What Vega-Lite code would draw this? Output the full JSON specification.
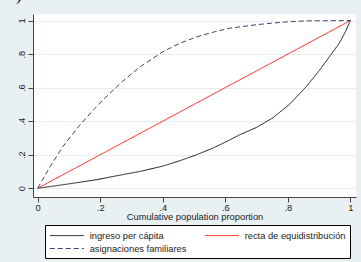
{
  "$schema": "https://vega.github.io/schema/vega-lite/v6.json",
  "autosize": {"type": "none"},
  "padding": {"left": 33, "top": 14, "right": 5, "bottom": 65},
  "width": 323,
  "height": 183,
  "background": "#e9f0f2",
  "title": {"text": "a)", "anchor": "start", "frame": "group", "fontSize": 18, "font": "Liberation Serif", "fontWeight": "normal", "color": "#000", "baseline": "alphabetic", "offset": 0, "dy": 4, "dx": -25},
  "config": {
    "view": {"fill": "white", "stroke": null},
    "font": "Liberation Sans"
  },
  "data": {"values": [
    {"series": "ingreso per cápita", "x": 0, "y": 0},
    {"series": "ingreso per cápita", "x": 0.081, "y": 0.021},
    {"series": "ingreso per cápita", "x": 0.188, "y": 0.051},
    {"series": "ingreso per cápita", "x": 0.251, "y": 0.074},
    {"series": "ingreso per cápita", "x": 0.326, "y": 0.100},
    {"series": "ingreso per cápita", "x": 0.400, "y": 0.132},
    {"series": "ingreso per cápita", "x": 0.454, "y": 0.164},
    {"series": "ingreso per cápita", "x": 0.507, "y": 0.199},
    {"series": "ingreso per cápita", "x": 0.560, "y": 0.239},
    {"series": "ingreso per cápita", "x": 0.613, "y": 0.287},
    {"series": "ingreso per cápita", "x": 0.645, "y": 0.318},
    {"series": "ingreso per cápita", "x": 0.699, "y": 0.362},
    {"series": "ingreso per cápita", "x": 0.752, "y": 0.420},
    {"series": "ingreso per cápita", "x": 0.805, "y": 0.500},
    {"series": "ingreso per cápita", "x": 0.858, "y": 0.604},
    {"series": "ingreso per cápita", "x": 0.901, "y": 0.703},
    {"series": "ingreso per cápita", "x": 0.933, "y": 0.784},
    {"series": "ingreso per cápita", "x": 0.965, "y": 0.866},
    {"series": "ingreso per cápita", "x": 0.986, "y": 0.940},
    {"series": "ingreso per cápita", "x": 1, "y": 1},
    {"series": "recta de equidistribución", "x": 0, "y": 0},
    {"series": "recta de equidistribución", "x": 0.25, "y": 0.25},
    {"series": "recta de equidistribución", "x": 0.5, "y": 0.5},
    {"series": "recta de equidistribución", "x": 0.75, "y": 0.75},
    {"series": "recta de equidistribución", "x": 1, "y": 1},
    {"series": "asignaciones familiares", "x": 0, "y": 0},
    {"series": "asignaciones familiares", "x": 0.040, "y": 0.130},
    {"series": "asignaciones familiares", "x": 0.081, "y": 0.250},
    {"series": "asignaciones familiares", "x": 0.134, "y": 0.375},
    {"series": "asignaciones familiares", "x": 0.182, "y": 0.475},
    {"series": "asignaciones familiares", "x": 0.230, "y": 0.565},
    {"series": "asignaciones familiares", "x": 0.273, "y": 0.640},
    {"series": "asignaciones familiares", "x": 0.326, "y": 0.722},
    {"series": "asignaciones familiares", "x": 0.400, "y": 0.814},
    {"series": "asignaciones familiares", "x": 0.454, "y": 0.864},
    {"series": "asignaciones familiares", "x": 0.507, "y": 0.902},
    {"series": "asignaciones familiares", "x": 0.560, "y": 0.930},
    {"series": "asignaciones familiares", "x": 0.613, "y": 0.954},
    {"series": "asignaciones familiares", "x": 0.699, "y": 0.975},
    {"series": "asignaciones familiares", "x": 0.752, "y": 0.985},
    {"series": "asignaciones familiares", "x": 0.805, "y": 0.993},
    {"series": "asignaciones familiares", "x": 0.858, "y": 0.998},
    {"series": "asignaciones familiares", "x": 1, "y": 1}
  ]},
  "mark": {"type": "line", "strokeWidth": 1},
  "encoding": {
    "x": {
      "field": "x", "type": "quantitative",
      "scale": {"domain": [-0.015, 1.018], "nice": false, "zero": false},
      "axis": {
        "values": [0, 0.2, 0.4, 0.6, 0.8, 1],
        "labelExpr": "datum.value == 0 ? '0' : datum.value == 1 ? '1' : '.' + round(datum.value * 10)",
        "grid": false,
        "domainColor": "#444", "tickColor": "#444", "tickSize": 5,
        "labelFontSize": 9.3, "labelColor": "#222", "labelPadding": 1,
        "title": "Cumulative population proportion",
        "titleFontSize": 9.3, "titleFontWeight": "normal", "titleColor": "#222", "titlePadding": 0
      }
    },
    "y": {
      "field": "y", "type": "quantitative",
      "scale": {"domain": [-0.052, 1.039], "nice": false, "zero": false},
      "axis": {
        "values": [0, 0.2, 0.4, 0.6, 0.8, 1],
        "labelExpr": "datum.value == 0 ? '0' : datum.value == 1 ? '1' : '.' + round(datum.value * 10)",
        "grid": true, "gridColor": "#e6eef1", "gridWidth": 1,
        "domainColor": "#444", "tickColor": "#444", "tickSize": 5,
        "labelAngle": -90, "labelAlign": "center", "labelBaseline": "bottom",
        "labelFontSize": 9.3, "labelColor": "#222", "labelPadding": 2,
        "title": null
      }
    },
    "color": {
      "field": "series", "type": "nominal",
      "scale": {
        "domain": ["ingreso per cápita", "recta de equidistribución", "asignaciones familiares"],
        "range": ["#1a1a1a", "#ff1a1a", "#36466c"]
      },
      "legend": {
        "title": null, "orient": "none", "legendX": 12, "legendY": 211,
        "direction": "horizontal", "columns": 2,
        "symbolType": "M-1,0H5", "symbolSize": 128.4, "symbolStrokeWidth": 1,
        "labelFontSize": 9.3, "labelColor": "#222", "labelOffset": 27.7,
        "columnPadding": 15, "rowPadding": 1, "padding": 4,
        "strokeColor": "#000", "fillColor": "white"
      }
    },
    "strokeDash": {
      "field": "series", "type": "nominal",
      "scale": {
        "domain": ["ingreso per cápita", "recta de equidistribución", "asignaciones familiares"],
        "range": [[1, 0], [1, 0], [5, 3]]
      },
      "legend": {
        "title": null, "orient": "none", "legendX": 12, "legendY": 211,
        "direction": "horizontal", "columns": 2,
        "symbolType": "M-1,0H5", "symbolSize": 128.4, "symbolStrokeWidth": 1,
        "labelFontSize": 9.3, "labelColor": "#222", "labelOffset": 27.7,
        "columnPadding": 15, "rowPadding": 1, "padding": 4,
        "strokeColor": "#000", "fillColor": "white"
      }
    }
  }
}
